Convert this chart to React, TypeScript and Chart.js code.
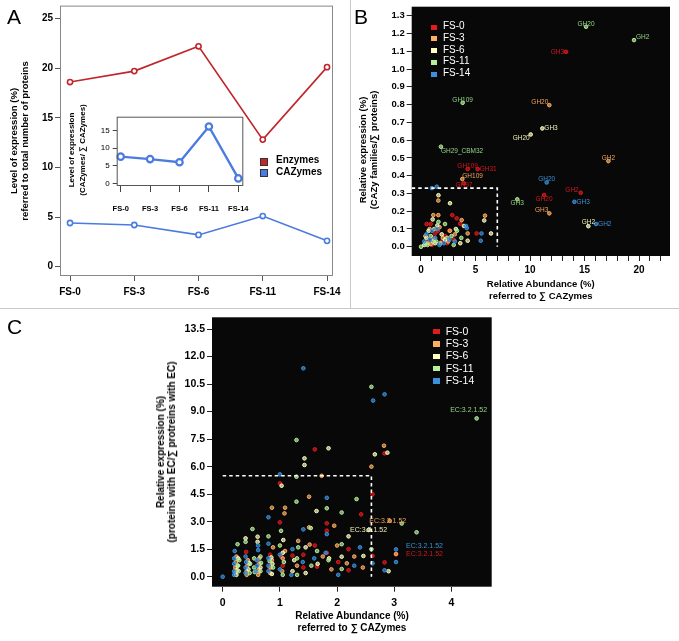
import React, { useEffect, useRef } from 'react';
import Chart from 'chart.js/auto';

const FF = '"Liberation Sans", Arial, Helvetica, sans-serif';

// ---------- Panel A ----------
const stages = ['FS-0', 'FS-3', 'FS-6', 'FS-11', 'FS-14'];
const enzymes = [18.6, 19.7, 22.2, 12.8, 20.1];
const cazymes = [4.4, 4.2, 3.2, 5.1, 2.6];
const cazymeShare = [7.6, 6.9, 6.0, 16.2, 1.4];
const aYTicks = [0, 5, 10, 15, 20, 25];
const insetYTicks = [0, 5, 10, 15];
const stageIdx = [0, 1, 2, 3, 4];

// ---------- Panel B ----------
const bXTicks = [0, 1, 2, 3, 4, 5, 6, 7, 8, 9, 10, 11, 12, 13, 14, 15, 16, 17, 18, 19, 20, 21, 22];
const bYTicks = [0, 0.1, 0.2, 0.3, 0.4, 0.5, 0.6, 0.7, 0.8, 0.9, 1.0, 1.1, 1.2, 1.3];
const bFS0 = [
  { x: 0.52, y: 0.128 }, { x: 0.89, y: 0.128 }, { x: 1.1, y: 0.05 }, { x: 1.55, y: 0.09 }, { x: 1.9, y: 0.03 },
  { x: 2.2, y: 0.06 }, { x: 2.87, y: 0.178 }, { x: 3.27, y: 0.16 }, { x: 3.0, y: 0.04 }, { x: 3.6, y: 0.13 },
  { x: 5.1, y: 0.075 }, { x: 1.0, y: 0.012 }, { x: 0.6, y: 0.03 }, { x: 2.4, y: 0.02 }, { x: 1.3, y: 0.075 },
  { x: 2.6, y: 0.09 },
  { x: 13.3, y: 1.097, label: 'GH3' }, { x: 4.28, y: 0.437, label: 'GH109' }, { x: 5.2, y: 0.437, label: 'GH31' },
  { x: 3.94, y: 0.357, label: 'GH97' }, { x: 14.65, y: 0.304, label: 'GH2' }, { x: 11.29, y: 0.291, label: 'GH20' },
];
const bFS3 = [
  { x: 0.4, y: 0.06 }, { x: 0.8, y: 0.1 }, { x: 1.13, y: 0.178 }, { x: 1.59, y: 0.26 }, { x: 1.59, y: 0.178 },
  { x: 1.2, y: 0.04 }, { x: 0.6, y: 0.02 }, { x: 2.0, y: 0.05 }, { x: 2.66, y: 0.09 }, { x: 3.1, y: 0.07 },
  { x: 3.73, y: 0.15 }, { x: 4.28, y: 0.075 }, { x: 5.87, y: 0.175 }, { x: 2.5, y: 0.03 }, { x: 1.7, y: 0.11 },
  { x: 0.9, y: 0.015 },
  { x: 11.77, y: 0.797, label: 'GH20' }, { x: 17.19, y: 0.482, label: 'GH2' }, { x: 3.79, y: 0.381, label: 'GH109' },
  { x: 11.77, y: 0.188, label: 'GH3' },
];
const bFS6 = [
  { x: 1.6, y: 0.29 }, { x: 2.66, y: 0.245 }, { x: 1.07, y: 0.154 }, { x: 0.5, y: 0.05 }, { x: 0.7, y: 0.09 },
  { x: 1.3, y: 0.02 }, { x: 1.9, y: 0.07 }, { x: 2.2, y: 0.04 }, { x: 3.2, y: 0.1 }, { x: 3.94, y: 0.117 },
  { x: 4.28, y: 0.034 }, { x: 5.8, y: 0.148 }, { x: 6.42, y: 0.075 }, { x: 3.6, y: 0.02 }, { x: 1.5, y: 0.12 },
  { x: 0.3, y: 0.01 },
  { x: 11.13, y: 0.666, label: 'GH3' }, { x: 10.06, y: 0.632, label: 'GH20' }, { x: 15.35, y: 0.116, label: 'GH2' },
];
const bFS11 = [
  { x: 0, y: 0 }, { x: 0.6, y: 0.01 }, { x: 0.9, y: 0.06 }, { x: 1.2, y: 0.1 }, { x: 1.6, y: 0.14 },
  { x: 2.2, y: 0.128 }, { x: 1.8, y: 0.02 }, { x: 2.4, y: 0.05 }, { x: 3.0, y: 0.01 }, { x: 3.3, y: 0.09 },
  { x: 3.7, y: 0.05 }, { x: 1.4, y: 0.03 }, { x: 2.8, y: 0.06 }, { x: 0.4, y: 0.02 }, { x: 1.1, y: 0.03 },
  { x: 15.14, y: 1.238, label: 'GH20' }, { x: 19.54, y: 1.163, label: 'GH2' }, { x: 3.82, y: 0.81, label: 'GH109' },
  { x: 1.83, y: 0.563, label: 'GH29_CBM32' }, { x: 8.83, y: 0.267, label: 'GH3' },
];
const bFS14 = [
  { x: 1.0, y: 0.33 }, { x: 1.45, y: 0.338 }, { x: 0.5, y: 0.07 }, { x: 0.8, y: 0.04 }, { x: 1.0, y: 0.09 },
  { x: 1.3, y: 0.05 }, { x: 1.7, y: 0.01 }, { x: 2.1, y: 0.02 }, { x: 2.6, y: 0.04 }, { x: 3.1, y: 0.03 },
  { x: 4.13, y: 0.117 }, { x: 4.2, y: 0.105 }, { x: 5.55, y: 0.075 }, { x: 5.48, y: 0.034 }, { x: 0.3, y: 0.03 },
  { x: 1.5, y: 0.1 },
  { x: 11.53, y: 0.362, label: 'GH20' }, { x: 14.07, y: 0.253, label: 'GH3' }, { x: 16.06, y: 0.128, label: 'GH2' },
];
const bZoomBox = { x1: 7, y1: 0.33 };

// ---------- Panel C ----------
const cXTicks = [0, 1, 2, 3, 4];
const cYTicks = [0, 1.5, 3, 4.5, 6, 7.5, 9, 10.5, 12, 13.5];
const cFS0 = [
  { x: 0.41, y: 1.35 }, { x: 0.6, y: 0.9 }, { x: 0.62, y: 0.3 }, { x: 0.82, y: 0.5 }, { x: 0.83, y: 1.2 },
  { x: 1.0, y: 2.96 }, { x: 1.0, y: 5.09 }, { x: 1.02, y: 1.1 }, { x: 1.05, y: 0.6 }, { x: 1.22, y: 1.15 },
  { x: 1.41, y: 1.2 }, { x: 1.41, y: 0.5 }, { x: 1.61, y: 6.94 }, { x: 1.61, y: 1.7 }, { x: 1.65, y: 0.55 },
  { x: 1.82, y: 2.91 }, { x: 1.82, y: 2.51 }, { x: 1.82, y: 1.3 }, { x: 2.02, y: 0.8 }, { x: 2.2, y: 0.35 },
  { x: 2.2, y: 1.5 }, { x: 2.42, y: 3.4 }, { x: 2.62, y: 4.49 }, { x: 2.62, y: 1.14 }, { x: 2.83, y: 6.72 },
  { x: 2.83, y: 0.78 }, { x: 0.25, y: 0.4 },
  { x: 3.03, y: 1.22, label: 'EC:3.2.1.52' },
];
const cFS3 = [
  { x: 0.22, y: 0.2 }, { x: 0.22, y: 0.5 }, { x: 0.23, y: 0.8 }, { x: 0.24, y: 1.1 }, { x: 0.42, y: 0.3 },
  { x: 0.43, y: 0.6 }, { x: 0.44, y: 0.9 }, { x: 0.42, y: 0.1 }, { x: 0.62, y: 0.1 }, { x: 0.63, y: 0.4 },
  { x: 0.64, y: 0.7 }, { x: 0.64, y: 1.0 }, { x: 0.63, y: 0.25 }, { x: 0.83, y: 0.2 }, { x: 0.84, y: 0.5 },
  { x: 0.86, y: 0.9 }, { x: 0.86, y: 3.76 }, { x: 0.88, y: 1.6 }, { x: 1.04, y: 0.3 }, { x: 1.05, y: 1.0 },
  { x: 1.08, y: 3.45 }, { x: 1.09, y: 3.76 }, { x: 1.09, y: 1.4 }, { x: 1.3, y: 0.6 }, { x: 1.32, y: 1.95 },
  { x: 1.51, y: 4.36 }, { x: 1.51, y: 2.69 }, { x: 1.52, y: 1.75 }, { x: 1.73, y: 5.5 }, { x: 1.75, y: 1.1 },
  { x: 1.95, y: 2.78 }, { x: 2.0, y: 1.7 }, { x: 2.17, y: 0.73 }, { x: 2.3, y: 1.1 }, { x: 2.6, y: 6.0 },
  { x: 2.82, y: 7.14 }, { x: 1.9, y: 0.4 }, { x: 2.45, y: 0.5 }, { x: 3.03, y: 1.24 },
  { x: 2.92, y: 3.05, label: 'EC:3.2.1.52' },
];
const cFS6 = [
  { x: 0.24, y: 0.1 }, { x: 0.26, y: 0.6 }, { x: 0.27, y: 1.0 }, { x: 0.25, y: 0.35 }, { x: 0.4, y: 2.09 },
  { x: 0.45, y: 0.4 }, { x: 0.46, y: 0.75 }, { x: 0.61, y: 2.18 }, { x: 0.61, y: 1.9 }, { x: 0.66, y: 0.5 },
  { x: 0.86, y: 0.15 }, { x: 0.87, y: 0.7 }, { x: 0.85, y: 1.05 }, { x: 1.03, y: 4.96 }, { x: 1.05, y: 1.3 },
  { x: 1.06, y: 2.0 }, { x: 1.22, y: 0.3 }, { x: 1.25, y: 0.9 }, { x: 1.43, y: 6.45 }, { x: 1.43, y: 6.09 },
  { x: 1.45, y: 0.2 }, { x: 1.45, y: 1.6 }, { x: 1.64, y: 3.58 }, { x: 1.66, y: 0.7 }, { x: 1.85, y: 7.0 },
  { x: 1.86, y: 1.0 }, { x: 2.08, y: 1.09 }, { x: 2.2, y: 2.2 }, { x: 2.46, y: 1.13 }, { x: 2.66, y: 6.67 },
  { x: 2.88, y: 6.76 }, { x: 2.9, y: 0.3 },
  { x: 2.55, y: 2.55, label: 'EC:3.2.1.52' },
];
const cFS11 = [
  { x: 0.26, y: 1.77 }, { x: 0.28, y: 0.3 }, { x: 0.29, y: 0.9 }, { x: 0.27, y: 0.6 }, { x: 0.4, y: 1.9 },
  { x: 0.47, y: 0.2 }, { x: 0.48, y: 0.7 }, { x: 0.52, y: 2.6 }, { x: 0.55, y: 0.5 }, { x: 0.55, y: 1.0 },
  { x: 0.56, y: 0.25 }, { x: 0.66, y: 0.3 }, { x: 0.66, y: 1.1 }, { x: 0.67, y: 0.75 }, { x: 0.8, y: 2.2 },
  { x: 0.88, y: 0.5 }, { x: 0.82, y: 0.85 }, { x: 1.0, y: 1.7 }, { x: 1.02, y: 2.5 }, { x: 1.05, y: 0.1 },
  { x: 1.07, y: 0.8 }, { x: 1.29, y: 7.45 }, { x: 1.29, y: 5.45 }, { x: 1.29, y: 4.09 }, { x: 1.3, y: 1.0 },
  { x: 1.32, y: 1.6 }, { x: 1.3, y: 0.1 }, { x: 1.54, y: 2.65 }, { x: 1.55, y: 0.6 }, { x: 1.65, y: 1.4 },
  { x: 1.82, y: 3.73 }, { x: 1.85, y: 0.9 }, { x: 2.08, y: 3.5 }, { x: 2.08, y: 1.77 }, { x: 2.08, y: 0.42 },
  { x: 2.34, y: 4.23 }, { x: 2.6, y: 10.35 }, { x: 2.6, y: 1.5 }, { x: 3.39, y: 2.42 }, { x: 3.13, y: 2.9 },
  { x: 4.44, y: 8.63, label: 'EC:3.2.1.52' },
];
const cFS14 = [
  { x: 0, y: 0 }, { x: 0.2, y: 0.3 }, { x: 0.2, y: 0.7 }, { x: 0.21, y: 1.4 }, { x: 0.2, y: 0.1 },
  { x: 0.2, y: 1.0 }, { x: 0.4, y: 0.2 }, { x: 0.4, y: 0.5 }, { x: 0.41, y: 0.8 }, { x: 0.4, y: 1.1 },
  { x: 0.58, y: 0.3 }, { x: 0.6, y: 0.6 }, { x: 0.62, y: 1.45 }, { x: 0.62, y: 1.7 }, { x: 0.6, y: 0.9 },
  { x: 0.8, y: 0.3 }, { x: 0.8, y: 0.6 }, { x: 0.8, y: 1.8 }, { x: 0.8, y: 3.24 }, { x: 0.8, y: 1.0 },
  { x: 1.0, y: 5.58 }, { x: 1.0, y: 0.4 }, { x: 1.0, y: 1.2 }, { x: 1.2, y: 0.1 }, { x: 1.22, y: 1.5 },
  { x: 1.41, y: 11.36 }, { x: 1.41, y: 2.58 }, { x: 1.4, y: 0.8 }, { x: 1.6, y: 1.0 }, { x: 1.82, y: 4.3 },
  { x: 1.82, y: 2.32 }, { x: 1.8, y: 1.3 }, { x: 2.02, y: 0.1 }, { x: 2.3, y: 0.6 }, { x: 2.4, y: 1.6 },
  { x: 2.62, y: 0.73 }, { x: 2.63, y: 9.6 }, { x: 2.83, y: 9.94 }, { x: 2.83, y: 0.35 }, { x: 3.03, y: 0.8 },
  { x: 3.03, y: 1.49, label: 'EC:3.2.1.52' },
];
const cZoomBox = { x0: 0, x1: 2.6, y1: 5.5 };

// ---------- styles ----------
const seriesColors = ['#e31a1c', '#fdae61', '#ffffbf', '#b5f09a', '#3a92dc'];
const labelColors = ['#d4181c', '#f0a45e', '#f0f0b8', '#94d386', '#3d8fd8'];
const aRed = '#c0272d';
const aBlue = '#4b7be0';

// label anchors: [textAlign, dx, dy]
const bAnchors: Record<string, [CanvasTextAlign, number, number]> = {
  '0:GH3': ['right', -2, 0], '0:GH109': ['center', 0, -3], '0:GH31': ['left', 2, 0], '0:GH97': ['center', 0, 2],
  '0:GH2': ['right', -2, -3], '0:GH20': ['center', 0, 4],
  '1:GH20': ['right', -1, -3], '1:GH2': ['center', 0, -3], '1:GH109': ['left', 0, -3], '1:GH3': ['right', -1, -3],
  '2:GH3': ['left', 2, 0], '2:GH20': ['right', -1, 4], '2:GH2': ['center', 0, -4],
  '3:GH20': ['center', 0, -3], '3:GH2': ['left', 2, -3], '3:GH109': ['center', 0, -3], '3:GH29_CBM32': ['left', 0, 4],
  '3:GH3': ['center', 0, 4],
  '4:GH20': ['center', 0, -3], '4:GH3': ['left', 2, 0], '4:GH2': ['left', 2, 0],
};
const cAnchors: Record<string, [CanvasTextAlign, number, number]> = {
  '0:EC:3.2.1.52': ['left', 10, 0], '1:EC:3.2.1.52': ['center', -2, 0], '2:EC:3.2.1.52': ['center', 0, 0],
  '3:EC:3.2.1.52': ['center', -8, -8], '4:EC:3.2.1.52': ['left', 10, -3],
};

function linearAxis(o: any) {
  return {
    type: 'linear',
    min: o.min,
    max: o.max,
    afterBuildTicks: (s: any) => { s.ticks = o.ticks.map((v: number) => ({ value: v })); },
    afterFit: (s: any) => {
      if (o.horizontal) s.height = o.fit; else s.width = o.fit;
      s.paddingLeft = 0; s.paddingRight = 0; s.paddingTop = 0; s.paddingBottom = 0;
    },
    ticks: {
      autoSkip: false, maxRotation: 0, minRotation: 0, padding: o.pad, color: '#000',
      font: { family: FF, size: o.size, weight: o.weight || 'bold' },
      callback: (v: number) => o.fmt(v),
    },
    grid: { display: true, drawOnChartArea: false, drawTicks: true, tickLength: o.tickLen, color: o.tickColor || '#222', lineWidth: 1 },
    border: { display: false },
  };
}

const framePlugin = (color: string) => ({
  id: 'frame',
  afterDraw(chart: any) {
    const { ctx, chartArea: a } = chart;
    ctx.save();
    ctx.strokeStyle = color;
    ctx.lineWidth = 1;
    ctx.strokeRect(a.left + 0.5, a.top + 0.5, a.right - a.left - 1, a.bottom - a.top - 1);
    ctx.restore();
  },
});

const blackBg = {
  id: 'blackBg',
  beforeDraw(chart: any) {
    const { ctx, chartArea: a } = chart;
    ctx.save();
    ctx.fillStyle = '#080808';
    ctx.fillRect(a.left, a.top, a.right - a.left, a.bottom - a.top);
    ctx.restore();
  },
};

const dashedBox = (box: any) => ({
  id: 'dashedBox',
  afterDatasetsDraw(chart: any) {
    const { ctx, scales: { x, y } } = chart;
    const x0 = box.x0 === undefined ? chart.chartArea.left : x.getPixelForValue(box.x0);
    const xr = x.getPixelForValue(box.x1);
    const yt = y.getPixelForValue(box.y1);
    const yb = y.getPixelForValue(0);
    ctx.save();
    ctx.strokeStyle = '#fff';
    ctx.lineWidth = 1.6;
    ctx.setLineDash([3.5, 3]);
    ctx.beginPath();
    ctx.moveTo(x0, yt);
    ctx.lineTo(xr, yt);
    ctx.lineTo(xr, yb);
    ctx.stroke();
    ctx.restore();
  },
});

const pointLabels = (anchors: Record<string, [CanvasTextAlign, number, number]>, size: number) => ({
  id: 'pointLabels',
  afterDatasetsDraw(chart: any) {
    const { ctx, scales: { x, y } } = chart;
    ctx.save();
    ctx.font = `${size}px ${FF}`;
    ctx.textBaseline = 'middle';
    chart.data.datasets.forEach((ds: any, i: number) => {
      ds.data.forEach((p: any) => {
        if (!p.label) return;
        const a = anchors[`${i}:${p.label}`] || ['center', 0, -3];
        ctx.fillStyle = labelColors[i];
        ctx.textAlign = a[0];
        ctx.fillText(p.label, x.getPixelForValue(p.x) + a[1], y.getPixelForValue(p.y) + a[2]);
      });
    });
    ctx.restore();
  },
});

function scatterSets(sets: any[]) {
  return sets.map((d, i) => ({
    label: stages[i],
    data: d,
    order: 4 - i,
    pointRadius: 1.8,
    pointHoverRadius: 1.8,
    borderWidth: 1,
    borderColor: seriesColors[i],
    backgroundColor: seriesColors[i] + 'aa',
    clip: false,
  }));
}

function ChartCanvas({ make, left, top, width, height }: any) {
  const ref = useRef<HTMLCanvasElement>(null);
  useEffect(() => {
    const chart = new Chart(ref.current as HTMLCanvasElement, make());
    return () => chart.destroy();
  }, []);
  return (
    <canvas ref={ref} width={width} height={height}
      style={{ position: 'absolute', left, top, width, height }} />
  );
}

const baseOpts = {
  animation: false,
  responsive: false,
  maintainAspectRatio: false,
  devicePixelRatio: 1,
  events: [],
};

const makeA = () => ({
  type: 'line',
  data: {
    datasets: [
      {
        data: stageIdx.map((i) => ({ x: i, y: enzymes[i] })),
        borderColor: aRed, borderWidth: 1.6, pointRadius: 2.6, pointBorderWidth: 1.6,
        pointBorderColor: aRed, pointBackgroundColor: '#fff', tension: 0, fill: false,
      },
      {
        data: stageIdx.map((i) => ({ x: i, y: cazymes[i] })),
        borderColor: aBlue, borderWidth: 1.6, pointRadius: 2.6, pointBorderWidth: 1.6,
        pointBorderColor: aBlue, pointBackgroundColor: '#fff', tension: 0, fill: false,
      },
    ],
  },
  options: {
    ...baseOpts,
    layout: { padding: { top: 5, right: 12, left: 0, bottom: 0 } },
    plugins: { legend: { display: false }, tooltip: { enabled: false } },
    scales: {
      x: linearAxis({ min: -0.156, max: 4.093, ticks: stageIdx, fmt: (v: number) => stages[v] ?? '', horizontal: true, fit: 29, size: 10, pad: 5, tickLen: 5, tickColor: '#555' }),
      y: linearAxis({ min: -0.94, max: 26.3, ticks: aYTicks, fmt: (v: number) => String(v), fit: 60, size: 10, pad: 2, tickLen: 5, tickColor: '#555' }),
    },
  },
  plugins: [framePlugin('#888')],
});

const makeInset = () => ({
  type: 'line',
  data: {
    datasets: [
      {
        data: stageIdx.map((i) => ({ x: i, y: cazymeShare[i] })),
        borderColor: aBlue, borderWidth: 2.4, pointRadius: 3.2, pointBorderWidth: 2.2,
        pointBorderColor: aBlue, pointBackgroundColor: '#fff', tension: 0, fill: false, clip: false,
      },
    ],
  },
  options: {
    ...baseOpts,
    layout: { padding: { top: 11.7, right: 6.7, left: 0, bottom: 0 } },
    plugins: { legend: { display: false }, tooltip: { enabled: false } },
    scales: {
      x: linearAxis({ min: -0.136, max: 4.17, ticks: stageIdx, fmt: (v: number) => stages[v] ?? '', horizontal: true, fit: 39, size: 7.5, pad: 12, tickLen: 6, tickColor: '#444' }),
      y: linearAxis({ min: -0.77, max: 19.0, ticks: insetYTicks, fmt: (v: number) => String(v), fit: 41.7, size: 8, weight: 'normal', pad: 3, tickLen: 4, tickColor: '#444' }),
    },
  },
  plugins: [framePlugin('#555')],
});

const makeB = () => ({
  type: 'scatter',
  data: { datasets: scatterSets([bFS0, bFS3, bFS6, bFS11, bFS14]) },
  options: {
    ...baseOpts,
    layout: { padding: { top: 6.7, right: 9, left: 0, bottom: 0 } },
    plugins: { legend: { display: false }, tooltip: { enabled: false } },
    scales: {
      x: linearAxis({ min: -0.853, max: 22.84, ticks: bXTicks, fmt: (v: number) => (v % 5 === 0 ? String(v) : ''), horizontal: true, fit: 49, size: 10, pad: 3, tickLen: 5 }),
      y: linearAxis({ min: -0.052, max: 1.351, ticks: bYTicks, fmt: (v: number) => v.toFixed(1), fit: 66.7, size: 9.5, pad: 2, tickLen: 5 }),
    },
  },
  plugins: [blackBg, dashedBox(bZoomBox), pointLabels(bAnchors, 6.5)],
});

const makeC = () => ({
  type: 'scatter',
  data: { datasets: scatterSets([cFS0, cFS3, cFS6, cFS11, cFS14]) },
  options: {
    ...baseOpts,
    layout: { padding: { top: 7.3, right: 18.3, left: 0, bottom: 0 } },
    plugins: { legend: { display: false }, tooltip: { enabled: false } },
    scales: {
      x: linearAxis({ min: -0.187, max: 4.703, ticks: cXTicks, fmt: (v: number) => String(v), horizontal: true, fit: 54.3, size: 10.5, pad: 5, tickLen: 5 }),
      y: linearAxis({ min: -0.545, max: 14.14, ticks: cYTicks, fmt: (v: number) => v.toFixed(1), fit: 82, size: 10.5, pad: 2, tickLen: 5 }),
    },
  },
  plugins: [blackBg, dashedBox(cZoomBox), pointLabels(cAnchors, 7)],
});

function VTitle({ x, y, size, lh, lines }: any) {
  return (
    <div style={{
      position: 'absolute', left: x, top: y, transform: 'translate(-50%, -50%) rotate(-90deg)',
      font: `bold ${size}px ${FF}`, lineHeight: `${lh}px`, textAlign: 'center', whiteSpace: 'nowrap', color: '#000',
    }}>
      {lines[0]}<br />{lines[1]}
    </div>
  );
}

function HTitle({ x, y, size, lh, lines }: any) {
  return (
    <div style={{
      position: 'absolute', left: x, top: y, transform: 'translateX(-50%)',
      font: `bold ${size}px ${FF}`, lineHeight: `${lh}px`, textAlign: 'center', whiteSpace: 'nowrap', color: '#000',
    }}>
      {lines[0]}<br />{lines[1]}
    </div>
  );
}

function DarkLegend({ x, y, step, sq, size }: any) {
  return (
    <>
      {stages.map((s, i) => (
        <React.Fragment key={s}>
          <div style={{ position: 'absolute', left: x, top: y + i * step - sq[1] / 2, width: sq[0], height: sq[1], background: seriesColors[i] }} />
          <div style={{ position: 'absolute', left: x + sq[0] + 6, top: y + i * step - 7, height: 14, lineHeight: '14px', font: `${size}px ${FF}`, color: '#fff', whiteSpace: 'nowrap' }}>{s}</div>
        </React.Fragment>
      ))}
    </>
  );
}

function Letter({ x, y, t }: any) {
  return (
    <div style={{ position: 'absolute', left: x, top: y, font: `21px ${FF}`, lineHeight: '21px', color: '#000' }}>{t}</div>
  );
}

export default function App() {
  return (
    <div style={{ position: 'absolute', left: 0, top: 0, width: 679, height: 641, background: '#fff', overflow: 'hidden' }}>
      {/* Panel A */}
      <ChartCanvas make={makeA} left={0} top={0} width={345} height={305} />
      <ChartCanvas make={makeInset} left={75} top={105} width={175} height={120} />
      <VTitle x={18.5} y={140.5} size={9.5} lh={11.3} lines={['Level of expression (%)', 'referred to total number of proteins']} />
      <VTitle x={76.5} y={150} size={8} lh={10.5} lines={['Level of expression', '(CAZymes/ \u2211 CAZymes)']} />
      {[['Enzymes', aRed, 161], ['CAZymes', aBlue, 172.5]].map(([t, c, yy]: any) => (
        <React.Fragment key={t}>
          <div style={{ position: 'absolute', left: 260, top: yy - 3.5, width: 6, height: 6, background: c, border: '1px solid #333' }} />
          <div style={{ position: 'absolute', left: 276, top: yy - 7, height: 14, lineHeight: '14px', font: `bold 10px ${FF}`, color: '#000' }}>{t}</div>
        </React.Fragment>
      ))}
      <Letter x={7} y={5.5} t="A" />

      {/* Panel B */}
      <ChartCanvas make={makeB} left={345} top={0} width={334} height={305} />
      <VTitle x={368} y={150} size={9.5} lh={10.5} lines={['Relative expression (%)', '(CAZy families/\u2211 proteins)']} />
      <HTitle x={540.8} y={278} size={9.5} lh={11.5} lines={['Relative Abundance (%)', 'referred to \u2211 CAZymes']} />
      <DarkLegend x={431} y={27} step={11.8} sq={[6, 5]} size={10} />
      <Letter x={354} y={5.5} t="B" />

      {/* separators */}
      <div style={{ position: 'absolute', left: 0, top: 307.5, width: 679, height: 1.5, background: '#c8c8c8' }} />
      <div style={{ position: 'absolute', left: 349.5, top: 0, width: 1.5, height: 308, background: '#c8c8c8' }} />

      {/* Panel C */}
      <ChartCanvas make={makeC} left={130} top={310} width={380} height={331} />
      <VTitle x={166.3} y={452} size={10} lh={11} lines={['Relative expression (%)', '(proteins with EC/\u2211 protreins with EC)']} />
      <HTitle x={352} y={609.5} size={10} lh={12} lines={['Relative Abundance (%)', 'referred to \u2211 CAZymes']} />
      <DarkLegend x={432.7} y={331.7} step={12.3} sq={[7, 5.5]} size={10.5} />
      <Letter x={7} y={315.5} t="C" />
    </div>
  );
}
